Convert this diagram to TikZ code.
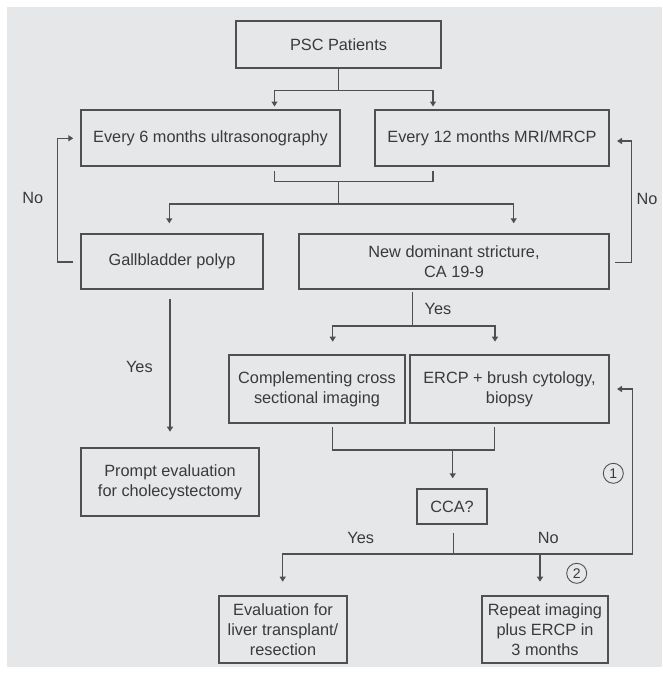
\documentclass[tikz,border=0pt]{standalone}
\usepackage{fontspec}
\setmainfont{Liberation Sans}
\usetikzlibrary{arrows.meta}
\definecolor{bgc}{HTML}{E6E7E9}
\definecolor{lnc}{HTML}{505050}
\definecolor{txc}{HTML}{3A3A3A}
\newcommand\diafont{\fontsize{16.3}{20}\selectfont}
\begin{document}
\begin{tikzpicture}[x=1pt,y=-1pt,
  bx/.style={draw=lnc, line width=1.4pt, text=txc, align=center, inner sep=0pt, font=\diafont},
  conn/.style={draw=lnc, line width=1.3pt},
  arr/.style={conn, -{Triangle[length=5pt,width=6pt]}},
  lbl/.style={text=txc, font=\diafont, inner sep=0pt},
  circ/.style={draw=lnc, circle, line width=0.9pt, minimum size=20pt, inner sep=0pt, text=txc, font=\fontsize{14}{14}\selectfont}
]
\useasboundingbox (0,0) rectangle (662,677);
\fill[white] (0,0) rectangle (662,677);
\fill[bgc] (7,7) rectangle (662,667);

% boxes
\node[bx, minimum width=205pt, minimum height=47pt] (psc) at (338.5,44.5) {PSC Patients};
\node[bx, minimum width=259pt, minimum height=56pt] (us) at (210.5,138) {Every 6 months ultrasonography};
\node[bx, minimum width=234pt, minimum height=56pt] (mri) at (492,138) {Every 12 months MRI/MRCP};
\node[bx, minimum width=182pt, minimum height=55pt] (gb) at (172,261.5) {Gallbladder polyp};
\node[bx, minimum width=310pt, minimum height=55pt] (nds) at (454,261.5) {New dominant stricture,\\CA 19-9};
\node[bx, minimum width=176pt, minimum height=68pt] (comp) at (317,389) {Complementing cross\\sectional imaging};
\node[bx, minimum width=199pt, minimum height=68pt] (ercp) at (509.5,389) {ERCP + brush cytology,\\biopsy};
\node[bx, minimum width=178pt, minimum height=68pt] (prompt) at (170,482) {Prompt evaluation\\for cholecystectomy};
\node[bx, minimum width=70pt, minimum height=35pt] (cca) at (452,506.5) {CCA?};
\node[bx, minimum width=128pt, minimum height=67pt] (evl) at (283,629.5) {Evaluation for\\liver transplant/\\resection};
\node[bx, minimum width=126pt, minimum height=67pt] (rep) at (545,629.5) {Repeat imaging\\plus ERCP in\\3 months};

% PSC -> two surveillance boxes
\coordinate (j1) at (338.5,90.7);
\coordinate (usin) at (274.5,106.5);
\coordinate (mriin) at (433,106.5);
\draw[conn] (psc.south) -- (j1);
\draw[arr] (j1) -| (usin);
\draw[arr] (j1) -| (mriin);

% bracket below surveillance
\coordinate (b1) at (274.3,171);
\coordinate (b2) at (433,171);
\coordinate (j2) at (338.7,181.7);
\coordinate (j3) at (338.7,204);
\draw[conn] (b1) |- (j2) -| (b2);
\draw[conn] (j2) -- (j3);
\coordinate (gbin) at (169.3,223.3);
\coordinate (ndsin) at (513.7,223.3);
\draw[arr] (j3) -| (gbin);
\draw[arr] (j3) -| (ndsin);

% No loops
\coordinate (gbout) at (73.3,262);
\coordinate (usloop) at (73.3,138.3);
\draw[arr] (gbout) -- ++(-16,0) |- (usloop);
\coordinate (ndsout) at (615,262.7);
\coordinate (mriloop) at (617,141);
\draw[arr] (ndsout) -- ++(16.3,0) |- (mriloop);

% Yes from stricture
\coordinate (y1) at (412.7,292);
\coordinate (j4) at (412.7,326);
\coordinate (compin) at (332.7,341.7);
\coordinate (ercpin) at (495,341.7);
\draw[conn] (y1) -- (j4);
\draw[arr] (j4) -| (compin);
\draw[arr] (j4) -| (ercpin);

% gallbladder -> prompt
\coordinate (gbdown) at (170,299.3);
\coordinate (prin) at (170,431.7);
\draw[arr] (gbdown) -- (prin);

% bracket below imaging / ERCP
\coordinate (b3) at (332.7,427);
\coordinate (b4) at (494.3,427);
\coordinate (j5) at (452.7,450);
\coordinate (ccain) at (452.7,478.3);
\draw[conn] (b3) |- (j5) -| (b4);
\draw[arr] (j5) -- (ccain);

% CCA outcomes
\coordinate (c1) at (453.3,533.3);
\coordinate (j6) at (453.3,554);
\coordinate (evin) at (282.7,581.7);
\coordinate (repin) at (540,581.7);
\coordinate (ercploop) at (617,389);
\draw[conn] (c1) -- (j6);
\draw[arr] (j6) -| (evin);
\draw[arr] (j6) -| (repin);
\draw[arr] (j6) -- ++(179.4,0) |- (ercploop);

% labels
\node[lbl] (nol) at (32.7,198.3) {No};
\node[lbl] (nor) at (647,199) {No};
\node[lbl] (yes1) at (438,309) {Yes};
\node[lbl] (yes2) at (139.4,366.7) {Yes};
\node[lbl] (yes3) at (360.7,537.7) {Yes};
\node[lbl] (no3) at (548.3,537.7) {No};
\node[circ] (c1n) at (613.3,473.3) {1};
\node[circ] (c2n) at (576.7,573.3) {2};
\end{tikzpicture}
\end{document}
